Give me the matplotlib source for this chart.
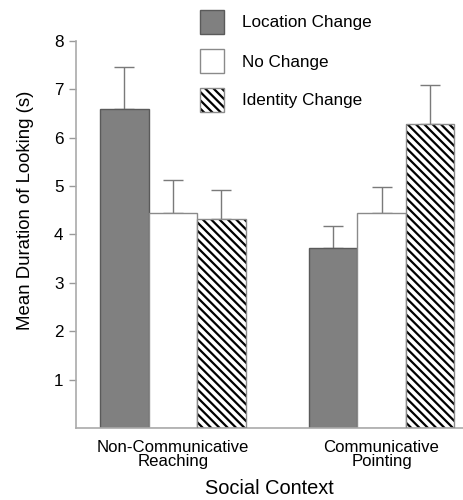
import matplotlib
matplotlib.use('Agg')
import matplotlib.pyplot as plt
from matplotlib.patches import Rectangle
import numpy as np

plt.rcParams['font.family'] = ['Liberation Sans', 'DejaVu Sans']
plt.rcParams['hatch.linewidth'] = 1.6

# data
groups = ['Non-Communicative\nReaching', 'Communicative\nPointing']
conditions = ['Location Change', 'No Change', 'Identity Change']
means = {
    'Location Change': [6.59, 3.72],
    'No Change': [4.45, 4.45],
    'Identity Change': [4.31, 6.27],
}
errors = {
    'Location Change': [0.86, 0.45],
    'No Change': [0.67, 0.52],
    'Identity Change': [0.61, 0.81],
}
yticks = [1, 2, 3, 4, 5, 6, 7, 8]

styles = {
    'Location Change': dict(facecolor='#808080', edgecolor='#5a5a5a', hatch=None),
    'No Change': dict(facecolor='white', edgecolor='#8a8a8a', hatch=None),
    'Identity Change': dict(facecolor='white', edgecolor='#8a8a8a', hatch='\\\\\\\\'),
}

W, H = 463, 500
fig = plt.figure(figsize=(W/100, H/100), dpi=100)
ax = fig.add_axes([76/W, 72/H, 1 - 76/W, (428 - 40.7)/H])

group_pos = np.array([0.0, 4.3])
for i, c in enumerate(conditions):
    st = styles[c]
    x = group_pos + i
    if st['hatch']:
        # hatch drawn in black, outline drawn separately in gray
        ax.bar(x, means[c], width=1.0, facecolor=st['facecolor'], edgecolor='black',
               hatch=st['hatch'], linewidth=0, zorder=2)
        ax.bar(x, means[c], width=1.0, facecolor='none', edgecolor=st['edgecolor'],
               linewidth=1.0, zorder=3)
    else:
        ax.bar(x, means[c], width=1.0, facecolor=st['facecolor'],
               edgecolor=st['edgecolor'], linewidth=1.0, zorder=2)
    ax.errorbar(x, means[c], yerr=[np.zeros(2), errors[c]], fmt='none',
                ecolor='#7a7a7a', elinewidth=1.0, capsize=7, capthick=1.0, zorder=1)

ax.set_xlim(-1.0, 6.98)
ax.set_ylim(0, 8)
ax.set_yticks(yticks)
ax.set_xticks(group_pos + 1)
ax.set_xticklabels(groups, fontsize=12.1, linespacing=0.9)
ax.tick_params(axis='x', length=0, pad=9)
ax.tick_params(axis='y', length=5, width=1, color='#999999', labelsize=12.3, pad=4)

for s in ['top', 'right']:
    ax.spines[s].set_visible(False)
for s in ['left', 'bottom']:
    ax.spines[s].set_color('#aaaaaa')
    ax.spines[s].set_linewidth(1.2)

ax.set_ylabel('Mean Duration of Looking (s)', fontsize=13.4)
ax.yaxis.set_label_coords(-0.108, 0.563)
ax.set_xlabel('Social Context', fontsize=14.4, labelpad=7)

# legend drawn by hand at the top
leg_tops = [10, 49, 88]
for c, top in zip(conditions, leg_tops):
    st = styles[c]
    xy = (200/W, 1 - (top + 24)/H)
    if st['hatch']:
        fig.patches.append(Rectangle(xy, 24/W, 24/H, transform=fig.transFigure,
                                     facecolor=st['facecolor'], edgecolor='black',
                                     hatch=st['hatch'], linewidth=0))
        fig.patches.append(Rectangle(xy, 24/W, 24/H, transform=fig.transFigure,
                                     facecolor='none', edgecolor=st['edgecolor'],
                                     linewidth=1.0))
    else:
        fig.patches.append(Rectangle(xy, 24/W, 24/H, transform=fig.transFigure,
                                     facecolor=st['facecolor'],
                                     edgecolor=st['edgecolor'], linewidth=1.0))
    fig.text(242/W, 1 - (top + 13)/H, c, fontsize=12.3, va='center', ha='left')

fig.savefig('out.png', dpi=100)
